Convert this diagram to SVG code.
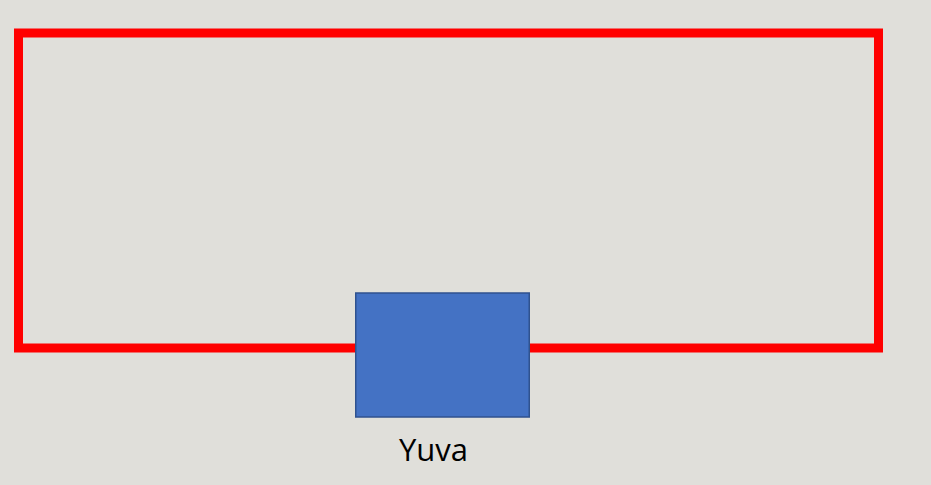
<svg xmlns="http://www.w3.org/2000/svg" width="931" height="485" viewBox="0 0 931 485">
<style>
.loop{fill:none;stroke:#FF0000;stroke-width:9}
.box{fill:#4472C4;stroke:#2F528F;stroke-width:1.5}
.lbl{font-family:"Open Sans","Noto Sans",sans-serif;font-size:31px;fill:#000}
</style>
<rect width="931" height="485" fill="#E0DFDA"/>
<g id="connectors">
<rect class="loop" x="18.5" y="33" width="860" height="315"/>
</g>
<g id="yuva">
<rect class="box" x="355.75" y="293" width="173.5" height="124"/>
<text class="lbl" x="433.5" y="461" text-anchor="middle">Yuva</text>
</g>
</svg>
